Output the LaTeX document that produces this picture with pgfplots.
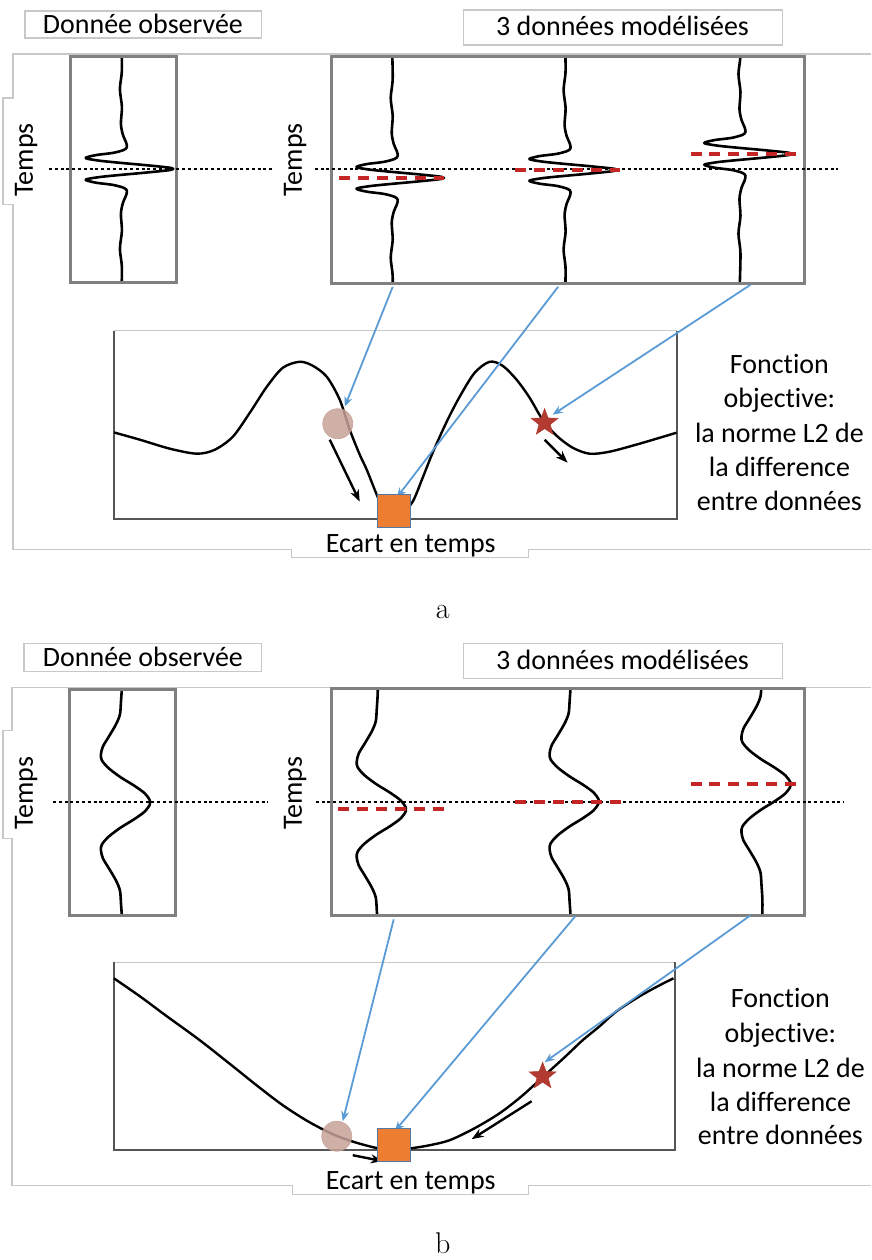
\documentclass[border=0pt]{standalone}
\usepackage{pgfplots}
\pgfplotsset{compat=1.18}
\usepackage{pgfplotstable}
\usepackage{fontspec}
\usetikzlibrary{arrows.meta}
\newfontfamily\calib[RawFeature={-liga;-clig;-dlig}]{Carlito}
\newcommand\tf{\calib\fontsize{14}{17}\selectfont}

\definecolor{boxgray}{RGB}{128,128,128}
\definecolor{framegray}{RGB}{200,200,200}
\definecolor{objgray}{RGB}{85,85,85}
\definecolor{dashred}{RGB}{196,38,38}
\definecolor{arrowblue}{RGB}{91,155,213}
\definecolor{sqorange}{RGB}{237,125,49}
\definecolor{sqedge}{RGB}{80,120,170}
\definecolor{balltan}{RGB}{198,162,152}
\definecolor{starred}{RGB}{178,58,48}

% filled five-point star
\pgfdeclareplotmark{fstar}{%
  \pgfpathmoveto{\pgfpointpolar{90}{\pgfplotmarksize}}%
  \pgfpathlineto{\pgfpointpolar{126}{0.42\pgfplotmarksize}}%
  \pgfpathlineto{\pgfpointpolar{162}{\pgfplotmarksize}}%
  \pgfpathlineto{\pgfpointpolar{198}{0.42\pgfplotmarksize}}%
  \pgfpathlineto{\pgfpointpolar{234}{\pgfplotmarksize}}%
  \pgfpathlineto{\pgfpointpolar{270}{0.42\pgfplotmarksize}}%
  \pgfpathlineto{\pgfpointpolar{306}{\pgfplotmarksize}}%
  \pgfpathlineto{\pgfpointpolar{342}{0.42\pgfplotmarksize}}%
  \pgfpathlineto{\pgfpointpolar{18}{\pgfplotmarksize}}%
  \pgfpathlineto{\pgfpointpolar{54}{0.42\pgfplotmarksize}}%
  \pgfpathclose
  \pgfusepathqfillstroke}

% sharp wavelet (a): amplitude dx, time offset dt (px)
\pgfplotstableread{
dx dt
0 -140
1 -100
-1 -80
1 -62
0 -45
2 -34
5 -27
6 -22
3 -19
-8 -16
-24 -14
-33 -12
-35 -11
-33 -10
-20 -8
0 -6
22 -4
42 -2
50 -1
52 0
50 1
42 2
22 4
0 6
-20 8
-33 10
-35 11
-33 12
-24 14
-8 16
3 19
6 22
5 27
2 34
0 45
1 62
-1 80
1 100
0 140
}\wavA

% broad wavelet (b)
\pgfplotstableread{
dx dt
0 -160
1 -120
0 -100
-1 -88
-5 -78
-12 -66
-18 -56
-20 -48
-19 -42
-12 -34
0 -25
13 -17
24 -9
29 -2
29 2
24 9
13 17
0 25
-12 34
-19 42
-20 48
-18 56
-12 66
-5 78
-1 88
0 100
1 120
0 160
}\wavB

\pgfplotsset{
  trace/.style={scale only axis, hide axis, y dir=reverse,
    xmin=-60, xmax=60, width=60pt, anchor=north},
  wig/.style={black, line width=1.3pt, smooth, tension=0.5},
  dotref/.style={black, line width=1.4pt, dash pattern=on 1.5pt off 1.4pt},
  redpick/.style={dashred, line width=2pt, dash pattern=on 5.5pt off 4pt},
}

\begin{document}
\begin{tikzpicture}
% ---- panel a traces
\begin{axis}[trace, at={(60.5pt,-28.5pt)}, ymin=-112, ymax=114, height=113pt]
\addplot[wig] table[x=dx,y=dt] {\wavA};
\end{axis}
\begin{axis}[trace, at={(196pt,-28.5pt)}, ymin=-121, ymax=106, height=113.5pt]
\addplot[wig] table[x=dx,y=dt] {\wavA};
\end{axis}
\begin{axis}[trace, at={(282.5pt,-28.5pt)}, ymin=-113, ymax=114, height=113.5pt]
\addplot[wig] table[x=dx,y=dt] {\wavA};
\end{axis}
\begin{axis}[trace, at={(370pt,-28.5pt)}, ymin=-97, ymax=130, height=113.5pt]
\addplot[wig] table[x=dx,y=dt] {\wavA};
\end{axis}
% ---- panel b traces
\begin{axis}[trace, at={(60.5pt,-345pt)}, ymin=-113, ymax=113, height=113pt]
\addplot[wig] table[x=dx,y=dt] {\wavB};
\end{axis}
\begin{axis}[trace, at={(188.5pt,-344.5pt)}, ymin=-121, ymax=106, height=113.5pt]
\addplot[wig] table[x=dx,y=dt] {\wavB};
\end{axis}
\begin{axis}[trace, at={(285pt,-344.5pt)}, ymin=-113, ymax=114, height=113.5pt]
\addplot[wig] table[x=dx,y=dt] {\wavB};
\end{axis}
\begin{axis}[trace, at={(381pt,-344.5pt)}, ymin=-96, ymax=131, height=113.5pt]
\addplot[wig] table[x=dx,y=dt] {\wavB};
\end{axis}

% ---- everything else, in pixel units
\begin{axis}[at={(0pt,0pt)}, anchor=north west, scale only axis,
  width=436pt, height=630pt, xmin=0, xmax=872, ymin=0, ymax=1260,
  y dir=reverse, hide axis, clip=false]
\path (0,0) rectangle (872,1260);

% frames
\draw[framegray, line width=0.6pt] (872,54) -- (13,54) -- (13,98) -- (3,98) -- (3,205) -- (13,205) -- (13,550) -- (292,550) -- (292,558) -- (529,558) -- (529,550) -- (872,550);
\draw[framegray, line width=0.6pt] (872,688) -- (12,688) -- (12,731) -- (3,731) -- (3,839) -- (12,839) -- (12,1186) -- (293,1186) -- (293,1195) -- (529,1195) -- (529,1186) -- (872,1186);
\draw[framegray, line width=0.6pt] (25,11) rectangle (262,38);
\draw[framegray, line width=0.6pt] (464,10) rectangle (783,45);
\draw[framegray, line width=0.6pt] (24,644) rectangle (262,672);
\draw[framegray, line width=0.6pt] (464,644) rectangle (783,679);

% titles
\node[anchor=base, font=\tf] at (143,34) {Donnée observée};
\node[anchor=base, font=\tf] at (623,36) {3 données modélisées};
\node[anchor=base, font=\tf] at (143,667) {Donnée observée};
\node[anchor=base, font=\tf] at (623,670) {3 données modélisées};
\node[anchor=base, font=\tf, rotate=90] at (33,160) {Temps};
\node[anchor=base, font=\tf, rotate=90] at (302,160) {Temps};
\node[anchor=base, font=\tf, rotate=90] at (33,794) {Temps};
\node[anchor=base, font=\tf, rotate=90] at (302,794) {Temps};
\node[anchor=base, font=\tf] at (411,553) {Ecart en temps};
\node[anchor=base, font=\tf] at (411,1190) {Ecart en temps};
\node[anchor=base, font=\tf] at (780,374) {Fonction};
\node[anchor=base, font=\tf] at (780,408) {objective:};
\node[anchor=base, font=\tf] at (780,443) {la norme L2 de};
\node[anchor=base, font=\tf] at (780,477) {la difference};
\node[anchor=base, font=\tf] at (780,511) {entre données};
\node[anchor=base, font=\tf] at (781,1008) {Fonction};
\node[anchor=base, font=\tf] at (781,1043) {objective:};
\node[anchor=base, font=\tf] at (781,1078) {la norme L2 de};
\node[anchor=base, font=\tf] at (781,1112) {la difference};
\node[anchor=base, font=\tf] at (781,1145) {entre données};
\node[anchor=base, font=\fontsize{15}{18}\selectfont] at (443,619) {a};
\node[anchor=base, font=\fontsize{15}{18}\selectfont] at (443,1254) {b};

% trace boxes
\draw[boxgray, line width=1.5pt] (71,57) rectangle (177,283);
\draw[boxgray, line width=1.5pt] (332,57) rectangle (805,284);
\draw[boxgray, line width=1.5pt] (70,690) rectangle (176,916);
\draw[boxgray, line width=1.5pt] (332,689) rectangle (805,916);

% reference time (dotted) and modelled picks (red dashed)
\addplot[dotref] coordinates {(49,169) (272,169)};
\addplot[dotref] coordinates {(315,169) (839,169)};
\addplot[dotref] coordinates {(53,802.5) (268,802.5)};
\addplot[dotref] coordinates {(316,802.5) (844,802.5)};
\addplot[redpick] coordinates {(339,178) (444,178)};
\addplot[redpick] coordinates {(515,170) (620,170)};
\addplot[redpick] coordinates {(691,154) (797,154)};
\addplot[redpick] coordinates {(338,810) (445,810)};
\addplot[redpick] coordinates {(515,802.5) (621,802.5)};
\addplot[redpick] coordinates {(691,785) (797,785)};

% objective function boxes
\draw[framegray, line width=0.6pt] (114,331) -- (677,331);
\draw[objgray, line width=1pt] (114,331) -- (114,519) -- (677,519) -- (677,331);
\draw[framegray, line width=0.6pt] (114,963) -- (675,963);
\draw[objgray, line width=1pt] (114,963) -- (114,1151) -- (675,1151) -- (675,963);

% objective function a (cycle skipping)
\addplot[black, line width=1.2pt, smooth] coordinates {
(114,432.7) (140,440) (170,449) (197,454) (215,450) (233,437) (250,413)
(267,387) (283,368) (300,362) (313,366) (327,377) (340,400) (350,430)
(360,455) (367,470) (380,502) (388,514) (395,517) (402,514) (413,502)
(423,478) (433,453) (447,422) (460,397) (475,373) (490,362) (503,366)
(517,380) (530,398) (543,420) (557,436) (573,448) (590,454) (610,452)
(640,444) (677,433)};
% objective function b (convex)
\addplot[black, line width=1.2pt, smooth] coordinates {
(114,979) (140,997) (167,1017) (200,1041) (233,1067) (258,1087) (283,1106)
(308,1122) (333,1135) (355,1143) (378,1149) (395,1150.5) (412,1149)
(430,1146) (450,1141) (475,1129) (500,1114) (522,1097) (543,1078)
(565,1058) (583,1041) (600,1027) (617,1012) (640,997) (660,986) (674,979)};

% markers
\addplot[balltan, only marks, mark=*, mark size=7.5pt, mark options={fill=balltan, draw=balltan, opacity=0.85}] coordinates {(338,424) (337,1137)};
\addplot[sqedge, only marks, mark=square*, mark size=8.25pt, mark options={fill=sqorange, draw=sqedge, line width=0.5pt}] coordinates {(394.5,511) (394.5,1146)};
\addplot[starred, only marks, mark=fstar, mark size=7pt, mark options={fill=starred, draw=starred, line width=0.3pt}] coordinates {(545,423) (543,1077)};

% descent directions
\addplot[black, line width=1.2pt, -{Stealth[length=6pt,width=4.5pt]}] coordinates {(330,440) (360,502)};
\addplot[black, line width=1.2pt, -{Stealth[length=6pt,width=4.5pt]}] coordinates {(545,440) (568,463)};
\addplot[black, line width=1.2pt, -{Stealth[length=6pt,width=4.5pt]}] coordinates {(353,1156) (383,1162)};
\addplot[black, line width=1.2pt, -{Stealth[length=6pt,width=4.5pt]}] coordinates {(532,1102) (472,1140)};

% links from modelled traces to the objective function
\addplot[arrowblue, line width=0.9pt, -{Stealth[length=5pt,width=4pt]}] coordinates {(393,287) (345,407)};
\addplot[arrowblue, line width=0.9pt, -{Stealth[length=5pt,width=4pt]}] coordinates {(558.5,287) (397,498)};
\addplot[arrowblue, line width=0.9pt, -{Stealth[length=5pt,width=4pt]}] coordinates {(751,285) (553,415)};
\addplot[arrowblue, line width=0.9pt, -{Stealth[length=5pt,width=4pt]}] coordinates {(394,920) (343,1122)};
\addplot[arrowblue, line width=0.9pt, -{Stealth[length=5pt,width=4pt]}] coordinates {(575.6,917) (395,1132)};
\addplot[arrowblue, line width=0.9pt, -{Stealth[length=5pt,width=4pt]}] coordinates {(751,916) (545,1063)};
\end{axis}
\end{tikzpicture}
\end{document}
